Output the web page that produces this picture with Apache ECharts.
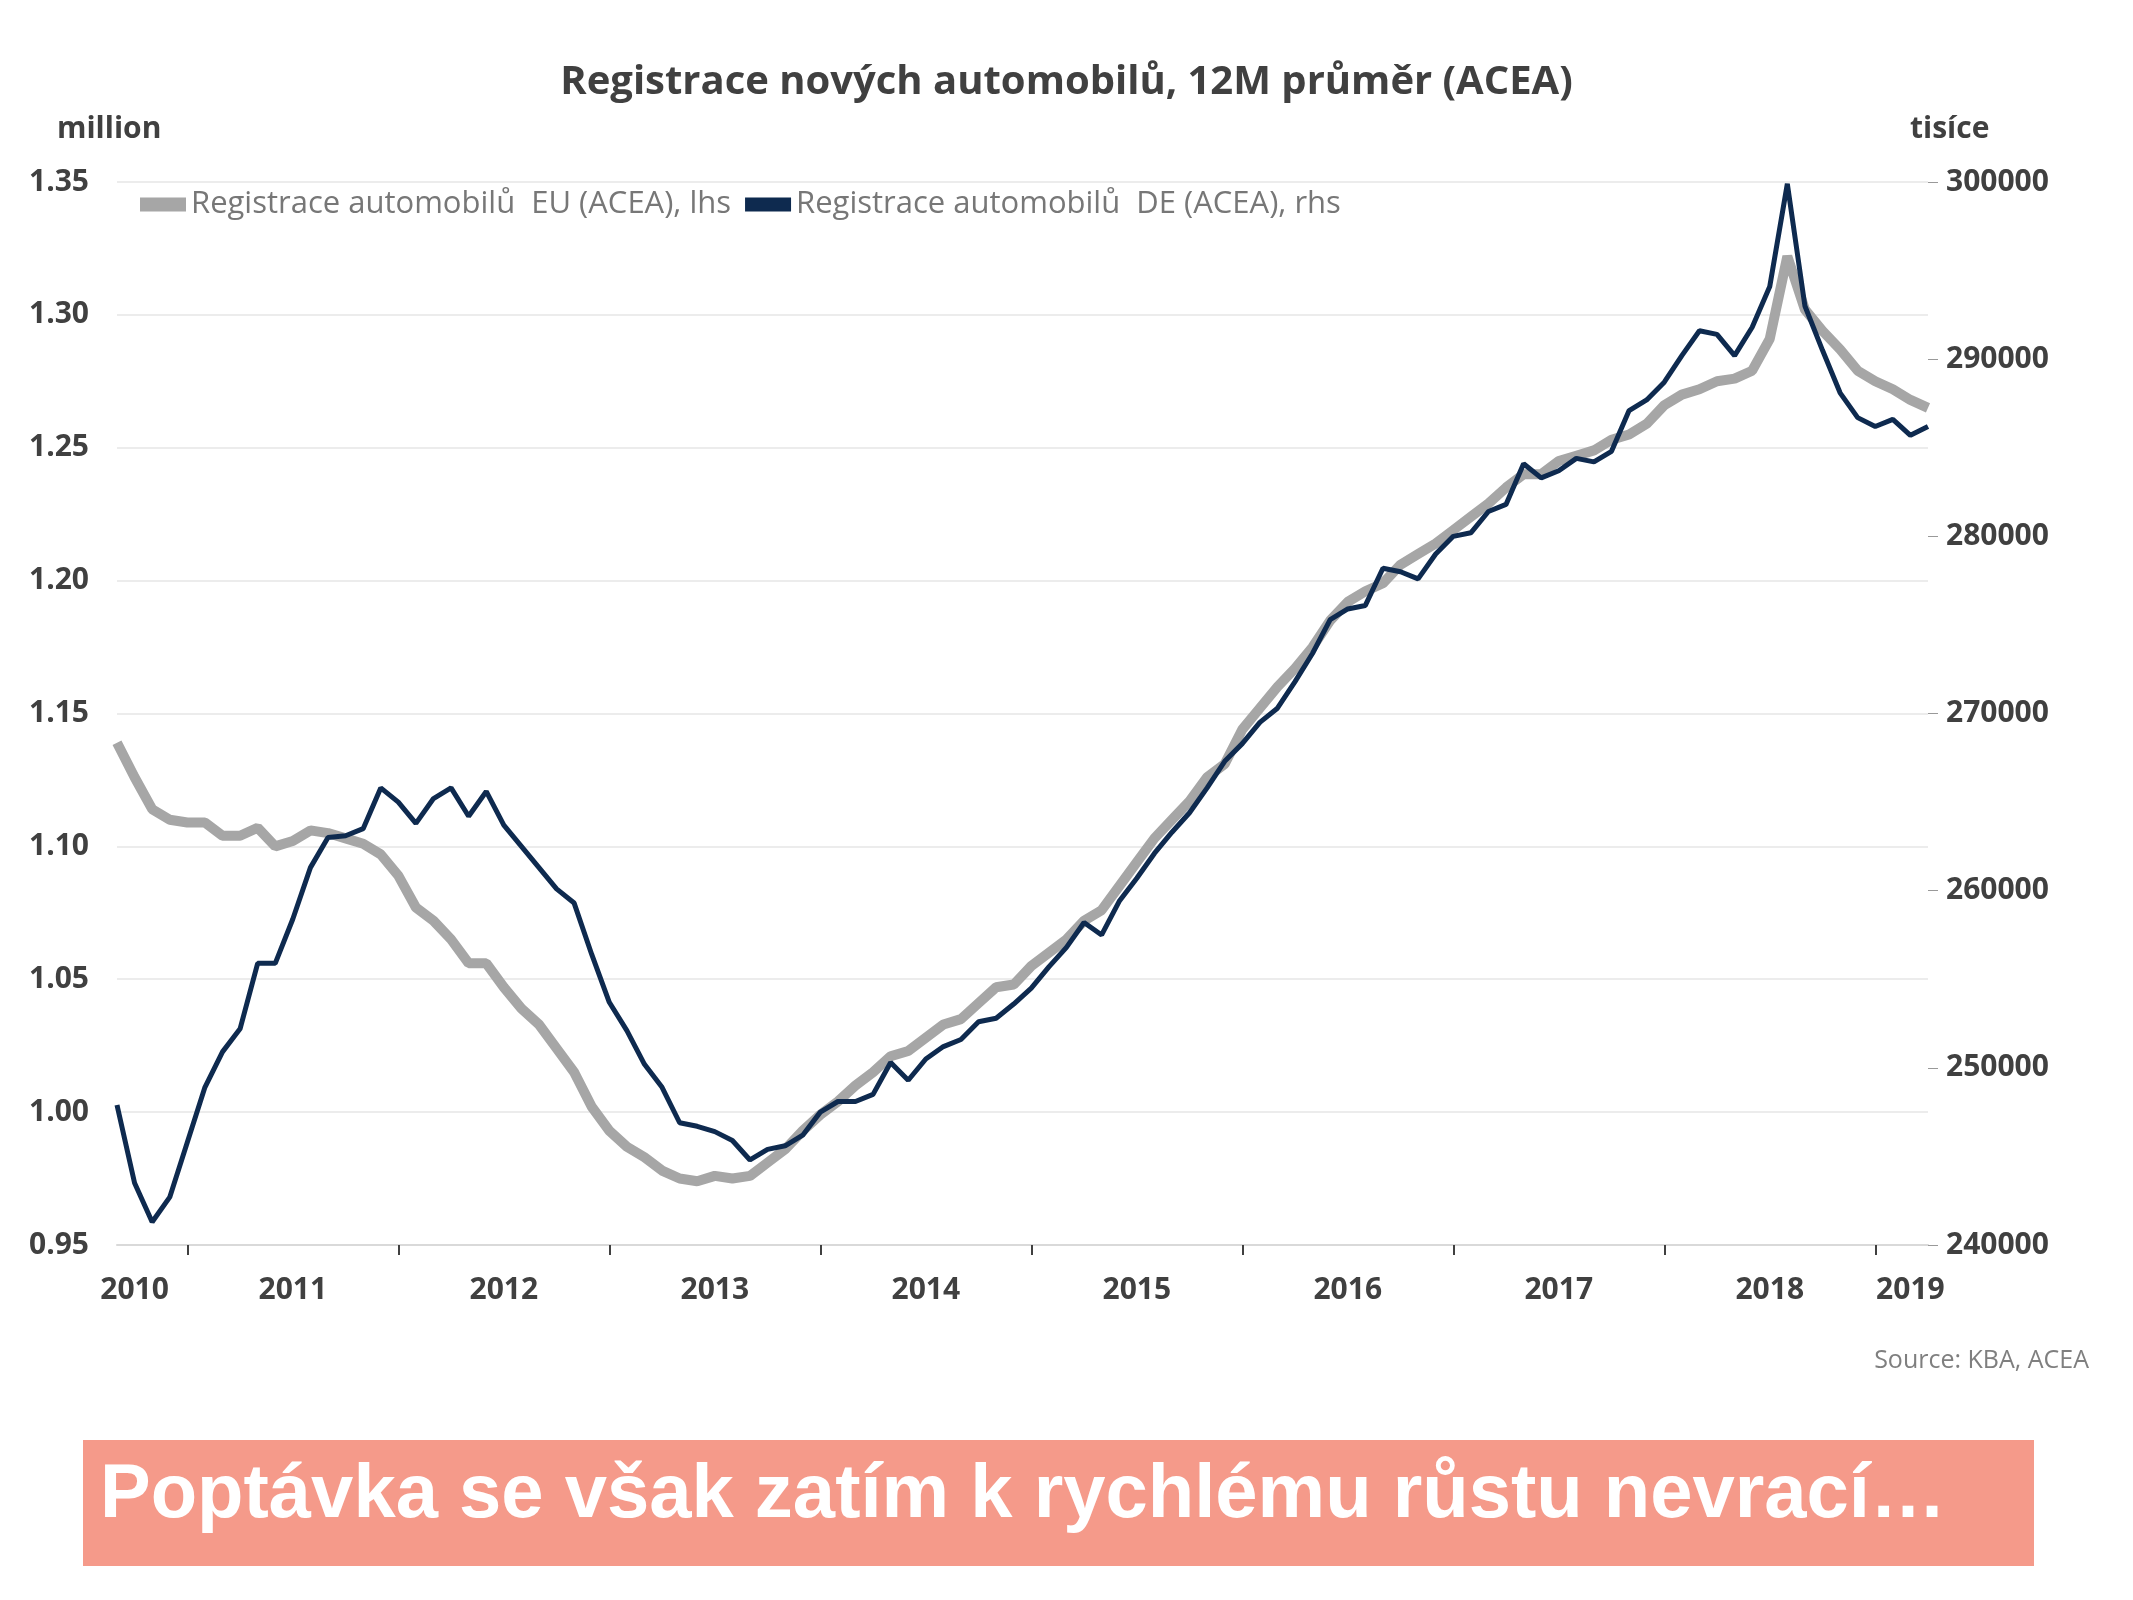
<!DOCTYPE html>
<html>
<head>
<meta charset="utf-8">
<script src="https://cdn.jsdelivr.net/npm/echarts@6/dist/echarts.min.js"></script>
<style>html,body{margin:0;padding:0;background:#fff}#chart{width:2133px;height:1600px}</style>
</head>
<body>
<div id="chart"></div>
<script>
// months Sep 2010 .. Apr 2019
var months = []
for (var y = 2010; y <= 2019; y++) {
  for (var m = 1; m <= 12; m++) {
    if ((y === 2010 && m < 9) || (y === 2019 && m > 4)) continue
    months.push(y + '-' + (m < 10 ? '0' + m : m))
  }
}

var euValues = [
  1.139, 1.126, 1.114, 1.110,
  1.109, 1.109, 1.104, 1.104, 1.107, 1.100, 1.102, 1.106, 1.105, 1.103, 1.101, 1.097,
  1.089, 1.077, 1.072, 1.065, 1.056, 1.056, 1.047, 1.039, 1.033, 1.024, 1.015, 1.002,
  0.993, 0.987, 0.983, 0.978, 0.975, 0.974, 0.976, 0.975, 0.976, 0.981, 0.986, 0.993,
  0.999, 1.004, 1.010, 1.015, 1.021, 1.023, 1.028, 1.033, 1.035, 1.041, 1.047, 1.048,
  1.055, 1.060, 1.065, 1.072, 1.076, 1.085, 1.094, 1.103, 1.110, 1.117, 1.126, 1.131,
  1.144, 1.152, 1.160, 1.167, 1.175, 1.185, 1.192, 1.196, 1.199, 1.206, 1.210, 1.214,
  1.219, 1.224, 1.229, 1.235, 1.240, 1.240, 1.245, 1.247, 1.249, 1.253, 1.255, 1.259,
  1.266, 1.270, 1.272, 1.275, 1.276, 1.279, 1.291, 1.322, 1.302, 1.294, 1.287, 1.279,
  1.275, 1.272, 1.268, 1.265
]

var deValues = [
  247900, 243500, 241300, 242700,
  245800, 248900, 250900, 252200, 255900, 255900, 258400, 261300, 263000, 263100, 263500, 265800,
  265000, 263800, 265200, 265800, 264200, 265600, 263700, 262500, 261300, 260100, 259300, 256400,
  253700, 252100, 250200, 248900, 246900, 246700, 246400, 245900, 244800, 245400, 245600, 246200,
  247500, 248100, 248100, 248500, 250300, 249300, 250500, 251200, 251600, 252600, 252800, 253600,
  254500, 255700, 256800, 258200, 257500, 259400, 260700, 262100, 263300, 264400, 265800, 267300,
  268300, 269500, 270300, 271800, 273400, 275300, 275900, 276100, 278200, 278000, 277600, 279000,
  280000, 280200, 281400, 281800, 284100, 283300, 283700, 284400, 284200, 284800, 287100, 287700,
  288700, 290200, 291600, 291400, 290200, 291800, 294100, 299900, 293000, 290500, 288100, 286700,
  286200, 286600, 285700, 286200
]

var labelAt = { '2010-10': '2010', '2019-03': '2019' }
for (var yy = 2011; yy <= 2018; yy++) labelAt[yy + '-07'] = String(yy)

var font = 'Open Sans'
var chart = echarts.init(document.getElementById('chart'))
chart.setOption({
  animation: false,
  textStyle: { fontFamily: font },
  title: {
    text: 'Registrace nových automobilů, 12M průměr (ACEA)',
    left: 'center', top: 58,
    textStyle: { fontSize: 40, fontWeight: 'bold', color: '#404040', fontFamily: font }
  },
  legend: {
    left: 135, top: 184, itemGap: 14, itemWidth: 46, itemHeight: 14,
    textStyle: { fontSize: 31, color: '#777' },
    data: [
      { name: 'Registrace automobilů  EU (ACEA), lhs', icon: 'rect', itemStyle: { color: '#a6a6a6' } },
      { name: 'Registrace automobilů  DE (ACEA), rhs', icon: 'rect', itemStyle: { color: '#0e2a4f' } }
    ]
  },
  grid: { left: 117, right: 205, top: 182, bottom: 355 },
  xAxis: {
    type: 'category', data: months, boundaryGap: false,
    axisLine: { lineStyle: { color: '#d9d9d9', width: 2 } },
    axisTick: {
      show: true, length: 10, lineStyle: { color: '#404040', width: 2 },
      interval: function (i, v) { return v.slice(5) === '01' }
    },
    axisLabel: {
      fontSize: 30, fontWeight: 'bold', color: '#404040', margin: 30,
      interval: function (i, v) { return !!labelAt[v] },
      formatter: function (v) { return labelAt[v] || '' }
    },
    splitLine: { show: false }
  },
  yAxis: [
    {
      type: 'value', min: 0.95, max: 1.35, interval: 0.05, position: 'left',
      axisLine: { show: false }, axisTick: { show: false },
      axisLabel: { fontSize: 30, fontWeight: 'bold', color: '#404040', margin: 28, formatter: function (v) { return v.toFixed(2) } },
      splitLine: { lineStyle: { color: '#ececec', width: 2 } }
    },
    {
      type: 'value', min: 240000, max: 300000, interval: 10000, position: 'right',
      axisLine: { show: false },
      axisTick: { show: true, length: 10, inside: false, lineStyle: { color: '#999' } },
      axisLabel: { fontSize: 30, fontWeight: 'bold', color: '#404040', margin: 18, formatter: function (v) { return String(v) } },
      splitLine: { show: false }
    }
  ],
  series: [
    {
      name: 'Registrace automobilů  EU (ACEA), lhs', type: 'line', yAxisIndex: 0,
      data: euValues, showSymbol: false, lineStyle: { color: '#a6a6a6', width: 10 }, itemStyle: { color: '#a6a6a6' }
    },
    {
      name: 'Registrace automobilů  DE (ACEA), rhs', type: 'line', yAxisIndex: 1,
      data: deValues, showSymbol: false, lineStyle: { color: '#0e2a4f', width: 5 }, itemStyle: { color: '#0e2a4f' }
    }
  ],
  graphic: [
    { type: 'text', left: 57, top: 114, style: { text: 'million', font: 'bold 30px "Open Sans"', fill: '#404040' } },
    { type: 'text', left: 1910, top: 114, style: { text: 'tisíce', font: 'bold 30px "Open Sans"', fill: '#404040' } },
    { type: 'text', right: 44, top: 1348, style: { text: 'Source: KBA, ACEA', font: '25px "Open Sans"', fill: '#7f7f7f' } },
    { type: 'rect', shape: { x: 83, y: 1440, width: 1951, height: 126 }, style: { fill: '#f59a8a' } },
    { type: 'text', left: 100, top: 1458, style: { text: 'Poptávka se však zatím k rychlému růstu nevrací…', font: 'bold 76px "Liberation Sans"', fill: '#fff' } }
  ]
})
</script>
</body>
</html>
